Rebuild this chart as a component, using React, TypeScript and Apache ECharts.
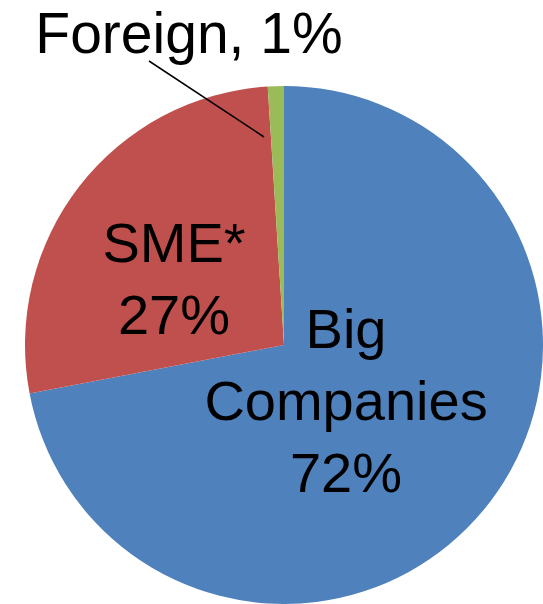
import React, { useEffect, useRef } from "react";
import * as echarts from "echarts";

const categories = ["Big\nCompanies", "SME*", "Foreign"];
const shares = [72, 27, 1];
const colors = ["#4F81BD", "#C0504D", "#9BBB59"];
const labelPos = [
  { x: 346, y: 400 },
  { x: 174, y: 278 },
  { x: 189, y: 33 },
];

export default function App() {
  const ref = useRef<HTMLDivElement>(null);
  useEffect(() => {
    if (!ref.current) return;
    const chart = echarts.init(ref.current, undefined, { renderer: "svg" });
    chart.setOption({
      animation: false,
      backgroundColor: "#ffffff",
      graphic: [
        {
          type: "line",
          z: 10,
          shape: { x1: 149, y1: 61, x2: 264, y2: 137 },
          style: { stroke: "#000", lineWidth: 1.5 },
        },
      ],
      series: [
        {
          type: "pie",
          center: [284, 345],
          radius: 259,
          startAngle: 90,
          clockwise: true,
          data: categories.map((c, i) => ({
            name: c,
            value: shares[i],
            itemStyle: { color: colors[i] },
            label:
              i === 2
                ? {
                    formatter: "Foreign, {d}%",
                    position: "outside",
                    overflow: "none",
                    width: 400,
                    fontSize: 57,
                  }
                : { formatter: "{b}\n{d}%", position: "inside" },
          })),
          label: {
            show: true,
            color: "#000",
            fontFamily: "Liberation Sans, Arial, sans-serif",
            fontSize: 56,
            lineHeight: 72,
            align: "center",
          },
          labelLine: { show: false },
          labelLayout: (params: any) => {
            const p = labelPos[params.dataIndex];
            return { x: p.x, y: p.y, align: "center", verticalAlign: "middle" };
          },
          emphasis: { disabled: true },
        },
      ],
    });
    return () => chart.dispose();
  }, []);
  return (
    <div
      ref={ref}
      style={{ position: "fixed", left: 0, top: 0, width: 543, height: 604 }}
    />
  );
}
